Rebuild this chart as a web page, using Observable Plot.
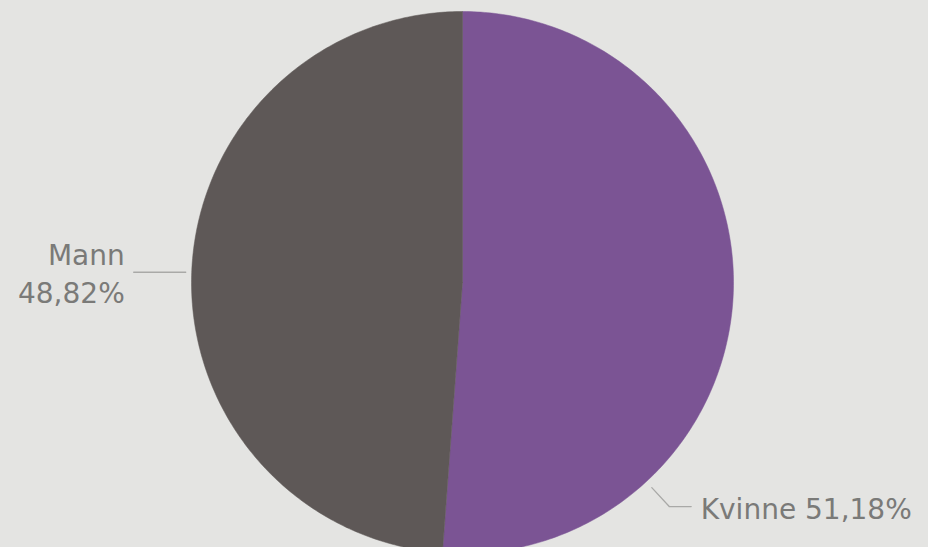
<!DOCTYPE html>
<html>
<head>
<meta charset="utf-8">
<script src="https://cdn.jsdelivr.net/npm/d3@7"></script>
<script src="https://cdn.jsdelivr.net/npm/@observablehq/plot@0.6"></script>
<style>
  html, body { margin: 0; padding: 0; background: #e4e4e2; }
  #chart { width: 928px; height: 547px; overflow: hidden; }
</style>
</head>
<body>
<div id="chart"></div>
<script>
// Data
const categories = ["Kvinne", "Mann"];
const shares = [51.18, 48.82];
const colors = ["#7b5494", "#5e5857"];
const valueLabels = ["51,18%", "48,82%"];

const W = 928, H = 547;
const cx = 462, cy = 282, R = 271; // pixel geometry of the pie

// pie angles (clockwise from top), Kvinne first
const pie = d3.pie().sort(null).value(d => d.share)(
  categories.map((c, i) => ({name: c, share: shares[i], color: colors[i]}))
);

// polygon points in unit-radius data space
const polys = [];
pie.forEach(p => {
  const n = 240;
  polys.push({name: p.data.name, x: 0, y: 0});
  for (let k = 0; k <= n; k++) {
    const a = p.startAngle + (p.endAngle - p.startAngle) * k / n;
    polys.push({name: p.data.name, x: Math.sin(a), y: Math.cos(a)});
  }
  polys.push({name: p.data.name, x: 0, y: 0});
});

const polar = (r, a) => ({x: r * Math.sin(a), y: r * Math.cos(a)});

// Leaders
const mannArc = pie[1];
const mannMid = (mannArc.startAngle + mannArc.endAngle) / 2;
const mStart = polar(1.022, mannMid);
const mEnd = {x: mStart.x - 0.192, y: mStart.y};
const kAngle = 137.3 * Math.PI / 180;
const kStart = polar(1.03, kAngle);
const kElbow = polar(1.125, kAngle);
const kEnd = {x: kElbow.x + 0.081, y: kElbow.y};

const leaders = [
  {id: "m", ...mStart}, {id: "m", ...mEnd},
  {id: "k", ...kStart}, {id: "k", ...kElbow}, {id: "k", ...kEnd}
];

const labels = [
  {x: mEnd.x - 0.033, y: mEnd.y + 0.058, text: categories[1]},
  {x: mEnd.x - 0.033, y: mEnd.y - 0.08, text: valueLabels[1]},
];
const kLabel = [{x: kEnd.x + 0.035, y: kEnd.y - 0.012, text: categories[0] + " " + valueLabels[0]}];

const xDom = [(0 - cx) / R, (W - cx) / R];
const yDom = [(cy - H) / R, cy / R];

const chart = Plot.plot({
  width: W, height: H,
  margin: 0,
  style: {background: "#e4e4e2", fontFamily: "'DejaVu Sans', sans-serif"},
  x: {domain: xDom, axis: null},
  y: {domain: yDom, axis: null},
  color: {domain: categories, range: colors},
  marks: [
    Plot.line(polys, {x: "x", y: "y", z: "name", fill: "name", stroke: "name", strokeWidth: 0.5, curve: "linear"}),
    Plot.line(leaders, {x: "x", y: "y", z: "id", stroke: "#a9a9a7", strokeWidth: 1.3}),
    Plot.text(labels, {x: "x", y: "y", text: "text", textAnchor: "end", fontSize: 28, fill: "#7a7a78"}),
    Plot.text(kLabel, {x: "x", y: "y", text: "text", textAnchor: "start", fontSize: 28, fill: "#7a7a78"})
  ]
});
document.getElementById("chart").appendChild(chart);
</script>
</body>
</html>
